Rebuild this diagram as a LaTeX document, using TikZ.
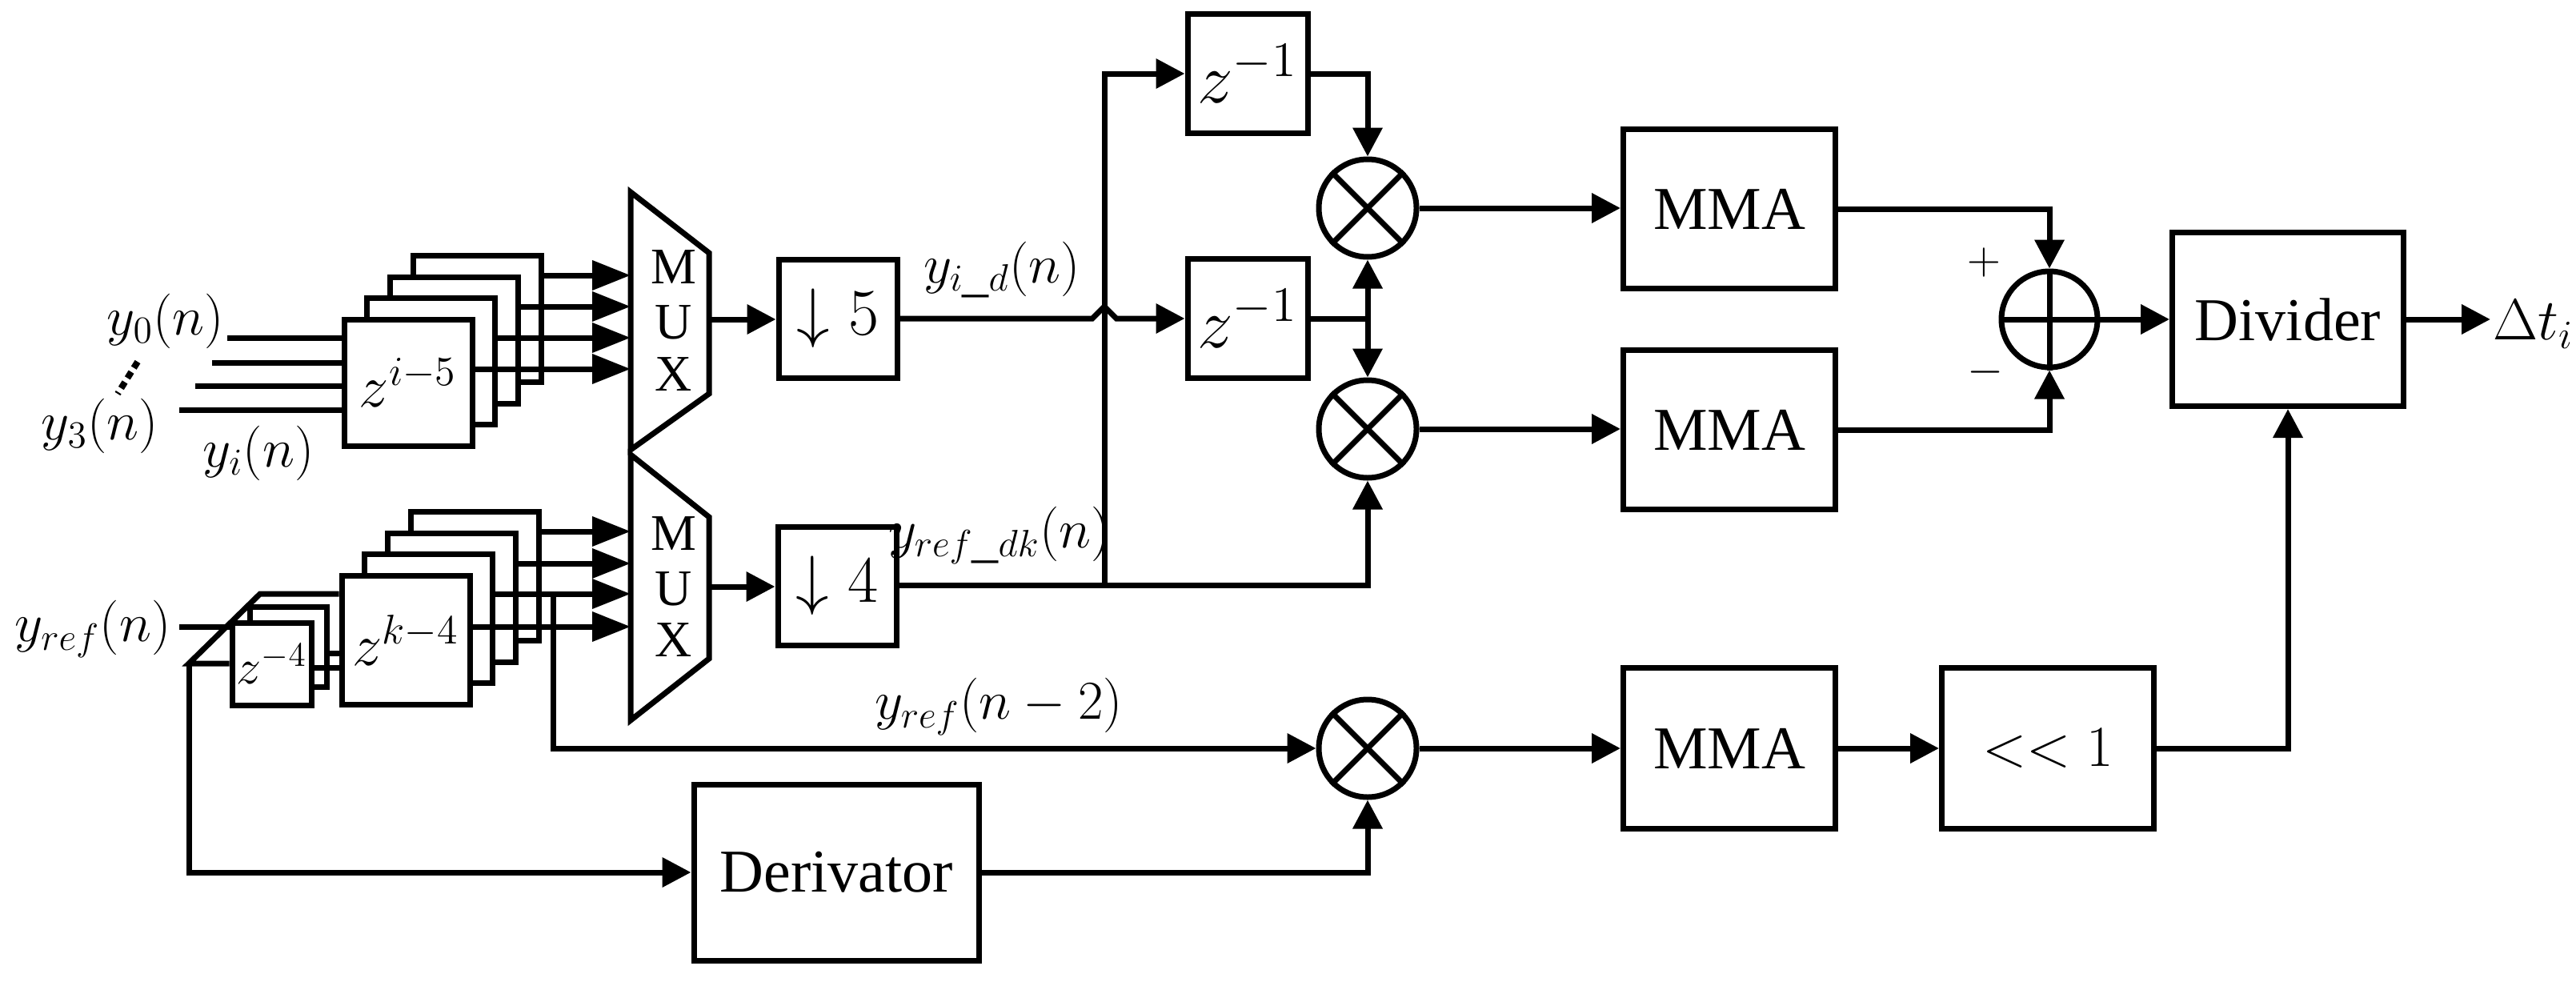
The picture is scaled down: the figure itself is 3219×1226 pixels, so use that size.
\documentclass[tikz,border=0pt]{standalone}
\usepackage{fontspec}
\setmainfont{Liberation Serif}
\usetikzlibrary{arrows.meta}
\newcommand{\mth}[2]{\scalebox{#1}{\fontsize{20}{24}\selectfont$#2$}}
\begin{document}
\begin{tikzpicture}[x=1pt,y=-1pt,line width=7pt,line join=miter,
  every node/.style={font=\fontsize{76}{84}\selectfont,inner sep=0pt},
  box/.style={draw,fill=white,minimum width=#1},
  blk/.style={draw,fill=white},
  tri/.style={-{Triangle[length=36pt,width=36pt]}},
  trib/.style={-{Triangle[length=48pt,width=36pt]}},
  mul/.style={draw,circle,minimum size=122pt,fill=white}]
\useasboundingbox (0,0) rectangle (3219,1226);
% ---- top delay stack
\foreach \k in {3,2,1} {\node[blk,minimum width=160pt,minimum height=158pt] (ta\k) at (510+28.7*\k,478-26.5*\k) {};}
\node[blk,minimum width=160pt,minimum height=158pt] (ta0) at (510,478) {};
\node at (ta0.center) {\mth{3.6}{z^{i-5}}};
% ---- bottom delay stack
\foreach \k in {3,2,1} {\node[blk,minimum width=160pt,minimum height=161pt] (tb\k) at (507+28.7*\k,800-26.7*\k) {};}
\node[blk,minimum width=160pt,minimum height=161pt] (tb0) at (507,800) {};
\node at (tb0.center) {\mth{3.6}{z^{k-4}}};
% z^-4
\node[blk,minimum width=96pt,minimum height=100pt] (zc1) at (360,808) {};
\node[blk,minimum width=99pt,minimum height=103pt] (zc0) at (339.5,829.5) {};
\node at (zc0.center) {\mth{3}{z^{-4}}};
% MUXes
\draw[fill=white] (788,240) coordinate (mxa) -- (886,316) -- (886,492) -- (788,562) -- cycle;
\draw[fill=white] (788,568) coordinate (mxb) -- (886,646) -- (886,823) -- (788,900) -- cycle;
\foreach \y/\t in {334/M,403/U,468/X} \node[font=\fontsize{64}{64}\selectfont] (mua\t) at (842,\y) {\t};
\foreach \y/\t in {667/M,736/U,800/X} \node[font=\fontsize{64}{64}\selectfont] (mub\t) at (842,\y) {\t};
\coordinate (mxaout) at (886,399);
\coordinate (mxbout) at (886,733);
% stack outputs
\draw[trib] (ta0.east |- 0,461) -- (788,461);
\draw[trib] (ta1.east |- 0,422) -- (788,422);
\draw[trib] (ta2.east |- 0,383) -- (788,383);
\draw[trib] (ta3.east |- 0,344) -- (788,344);
\draw[trib] (tb0.east |- 0,783) -- (788,783);
\draw[trib] (tb1.east |- 0,742) -- (788,742);
\draw[trib] (tb2.east |- 0,704) -- (788,704);
\draw[trib] (tb3.east |- 0,664) -- (788,664);
% inputs
\coordinate (i0) at (284,422); \coordinate (i1) at (265,453);
\coordinate (i2) at (244,482); \coordinate (i3) at (224,512);
\draw (i0) -- (i0 -| ta0.west); \draw (i1) -- (i1 -| ta0.west);
\draw (i2) -- (i2 -| ta0.west); \draw (i3) -- (i3 -| ta0.west);
\draw[line width=8pt,dash pattern=on 9pt off 6pt] (172,452) -- (147,492);
\node (ly0) at (207,401) {\mth{3.3}{y_0(n)}};
\node (ly3) at (125,532) {\mth{3.3}{y_3(n)}};
\node (lyi) at (323,566) {\mth{3.3}{y_i(n)}};
\node (lyr) at (116,786) {\mth{3.3}{y_{ref}(n)}};
% ref input network
\coordinate (r0) at (224,783);
\draw (r0) -- (r0 -| zc0.west);
\coordinate (dl) at (236,829);
\coordinate (dt) at (325,742);
\draw (tb0.west |- dt) -- (dt) -- (dl) -- (dl -| zc0.west);
\draw (zc1.east |- 0,816) -- (tb0.west |- 0,816);
\draw (zc0.east |- 0,834) -- (tb0.west |- 0,834);
% downsamplers
\node[box=148pt,minimum height=148pt] (d5) at (1047,398) {\mth{4}{\downarrow 5}};
\node[box=148pt,minimum height=148pt] (d4) at (1046,732) {\mth{4}{\downarrow 4}};
\draw[tri] (mxaout) -- (d5.west |- mxaout);
\draw[tri] (mxbout) -- (d4.west |- mxbout);
% delays z^-1
\node[box=150pt,minimum height=149pt] (za) at (1559,92) {\mth{4.3}{z^{-1}}};
\node[box=150pt,minimum height=149pt] (zb) at (1559,398) {\mth{4.3}{z^{-1}}};
% multipliers
\foreach \n/\p in {m1/{(1709,260)},m2/{(1709,536)},m3/{(1709,935)}} {
  \node[mul] (\n) at \p {};
  \draw (\n.45) -- (\n.225); \draw (\n.135) -- (\n.315);
}
% branch
\coordinate (br) at (1380,731);
\draw[tri] (d4.east |- br) -- (br) -- (1380,92) -- (za.west);
\draw[tri] (br) -| (m2.south);
\draw[tri] (d5.east) -- (1365,398) -- (1380,383) -- (1395,398) -- (zb.west);
\draw[tri] (za.east) -| (m1.north);
\coordinate (zj) at (1709,398);
\draw[tri] (zb.east) -- (zj) -- (m1.south);
\draw[tri] (zj) -- (m2.north);
\node (lyid) at (1252,337) {\mth{3.3}{y_{i\_d}(n)}};
\node (lyrd) at (1249,669) {\mth{3.3}{y_{ref\_dk}(n)}};
\node (lyr2) at (1248,883) {\mth{3.3}{y_{ref}(n-2)}};
% ref(n-2) and derivator
\coordinate (tap) at (691,742);
\draw[tri] (tap) |- (m3.west);
\node[box=356pt,minimum height=220pt] (der) at (1045,1090) {Derivator};
\draw[tri] (dl) |- (der.west);
\draw[tri] (der.east) -| (m3.south);
% MMAs
\node[box=265pt,minimum height=199pt] (mma1) at (2161,261) {MMA};
\node[box=265pt,minimum height=199pt] (mma2) at (2161,537) {MMA};
\node[box=265pt,minimum height=201pt] (mma3) at (2161,935) {MMA};
\node[box=265pt,minimum height=201pt] (sh) at (2559,935) {\mth{3.5}{<<1}};
\draw[tri] (m1.east) -- (mma1.west |- m1.east);
\draw[tri] (m2.east) -- (mma2.west |- m2.east);
\draw[tri] (m3.east) -- (mma3.west);
\draw[tri] (mma3.east) -- (sh.west);
% sum
\node[draw,circle,minimum size=120pt] (sum) at (2561,399) {};
\draw (sum.north) -- (sum.south); \draw (sum.west) -- (sum.east);
\draw[tri] (mma1.east) -| (sum.north);
\draw[tri] (mma2.east) -| (sum.south);
\node (plus) at (2479,328) {\mth{2.8}{+}};
\node (minus) at (2481,465) {\mth{2.8}{-}};
% divider
\node[box=289pt,minimum height=217pt] (div) at (2859,399) {Divider};
\draw[tri] (sum.east) -- (div.west);
\draw[tri] (sh.east) -| (div.south);
\node[anchor=west] (dt) at (3112,405) {\mth{3.5}{\Delta t_i}};
\draw[tri] (div.east) -- (div.east -| dt.west);
\end{tikzpicture}
\end{document}
